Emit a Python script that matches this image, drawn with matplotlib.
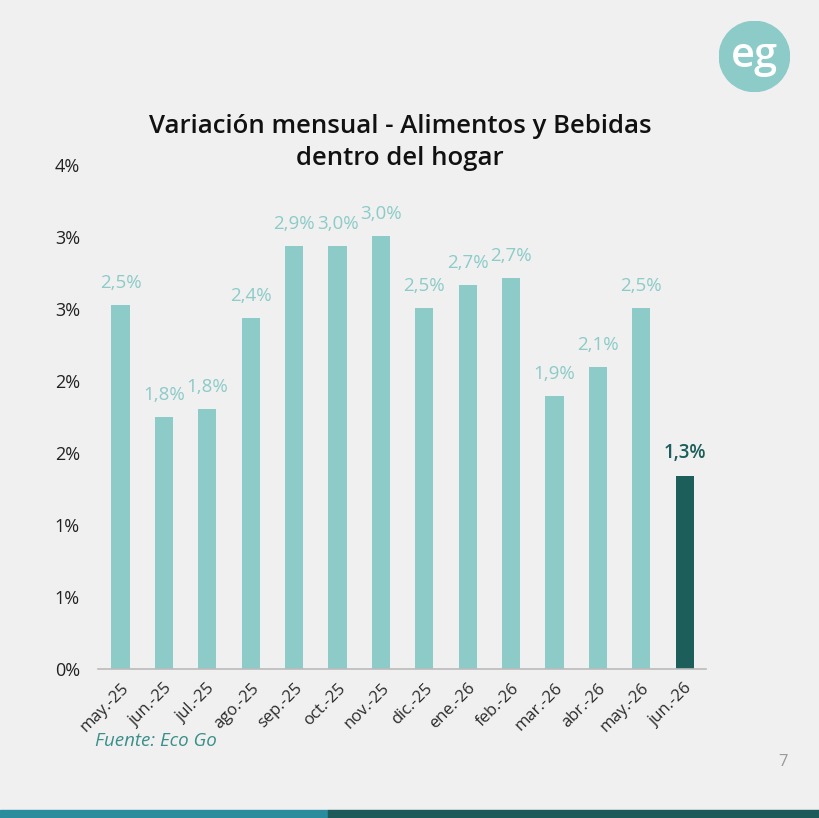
import matplotlib.pyplot as plt
from matplotlib.patches import Circle, Rectangle

plt.rcParams['font.family'] = ['Open Sans', 'DejaVu Sans']

meses = ['may.-25', 'jun.-25', 'jul.-25', 'ago.-25', 'sep.-25', 'oct.-25', 'nov.-25',
         'dic.-25', 'ene.-26', 'feb.-26', 'mar.-26', 'abr.-26', 'may.-26', 'jun.-26']
valores = [2.53, 1.75, 1.81, 2.44, 2.94, 2.94, 3.01, 2.51, 2.67, 2.72, 1.90, 2.10, 2.51, 1.34]
etiquetas = ['2,5%', '1,8%', '1,8%', '2,4%', '2,9%', '3,0%', '3,0%',
             '2,5%', '2,7%', '2,7%', '1,9%', '2,1%', '2,5%', '1,3%']
yticks = [0, 0.5, 1.0, 1.5, 2.0, 2.5, 3.0, 3.5]
ytick_labels = ['0%', '1%', '1%', '2%', '2%', '3%', '3%', '4%']

bg = '#f0f0f0'
claro = '#8ccbc8'
oscuro = '#1b5e5a'

fig = plt.figure(figsize=(8.2, 8.18), dpi=100, facecolor=bg)
ax = fig.add_axes([0.1195, 0.182, 0.742, 0.616], facecolor=bg)

colores = [claro] * (len(valores) - 1) + [oscuro]
x = range(len(meses))
ax.bar(x, valores, width=0.42, color=colores)

for i, (v, t) in enumerate(zip(valores, etiquetas)):
    ultimo = i == len(valores) - 1
    ax.text(i, v + 0.09, t, ha='center', va='bottom', fontsize=13.5,
            color=oscuro if ultimo else claro,
            fontweight='semibold' if ultimo else 'normal')

ax.set_xlim(-0.52, len(meses) - 0.5)
ax.set_ylim(0, 3.5)
ax.set_yticks(yticks)
ax.set_yticklabels(ytick_labels, fontsize=13, color='#222222')
ax.set_xticks(list(x))
ax.set_xticklabels(meses, rotation=45, ha='right', rotation_mode='anchor',
                   fontsize=12, color='#2a2a2a')
ax.tick_params(axis='both', length=0)
ax.tick_params(axis='y', pad=13)
ax.tick_params(axis='x', pad=8)
for s in ['top', 'right', 'left']:
    ax.spines[s].set_visible(False)
ax.spines['bottom'].set_color('#bbbbbb')
ax.spines['bottom'].set_linewidth(1.2)

fig.text(0.488, 0.826, 'Variación mensual - Alimentos y Bebidas\ndentro del hogar',
         ha='center', va='center', fontsize=18.5, color='#111111',
         linespacing=1.38, fontweight='semibold')

fig.text(0.116, 0.094, 'Fuente: Eco Go', fontsize=13.5, style='italic',
         color='#3a8f8a', ha='left', va='center')
fig.text(0.955, 0.069, '7', fontsize=12, color='#999999', ha='center', va='center')

# logo
logo = fig.add_axes([0.877, 0.888, 0.086, 0.086])
logo.set_xlim(-1, 1)
logo.set_ylim(-1, 1)
logo.set_aspect('equal')
logo.axis('off')
logo.add_patch(Circle((0, 0), 1, color=claro))
logo.text(0, 0.02, 'eg', fontsize=30, color='white', ha='center', va='center',
          fontweight='semibold')

# barra inferior
fig.patches.append(Rectangle((0, 0), 0.4, 0.01, transform=fig.transFigure,
                             color='#2a8c9c'))
fig.patches.append(Rectangle((0.4, 0), 0.6, 0.01, transform=fig.transFigure,
                             color='#1d5b5a'))

fig.savefig('out.png', dpi=100, facecolor=bg)
